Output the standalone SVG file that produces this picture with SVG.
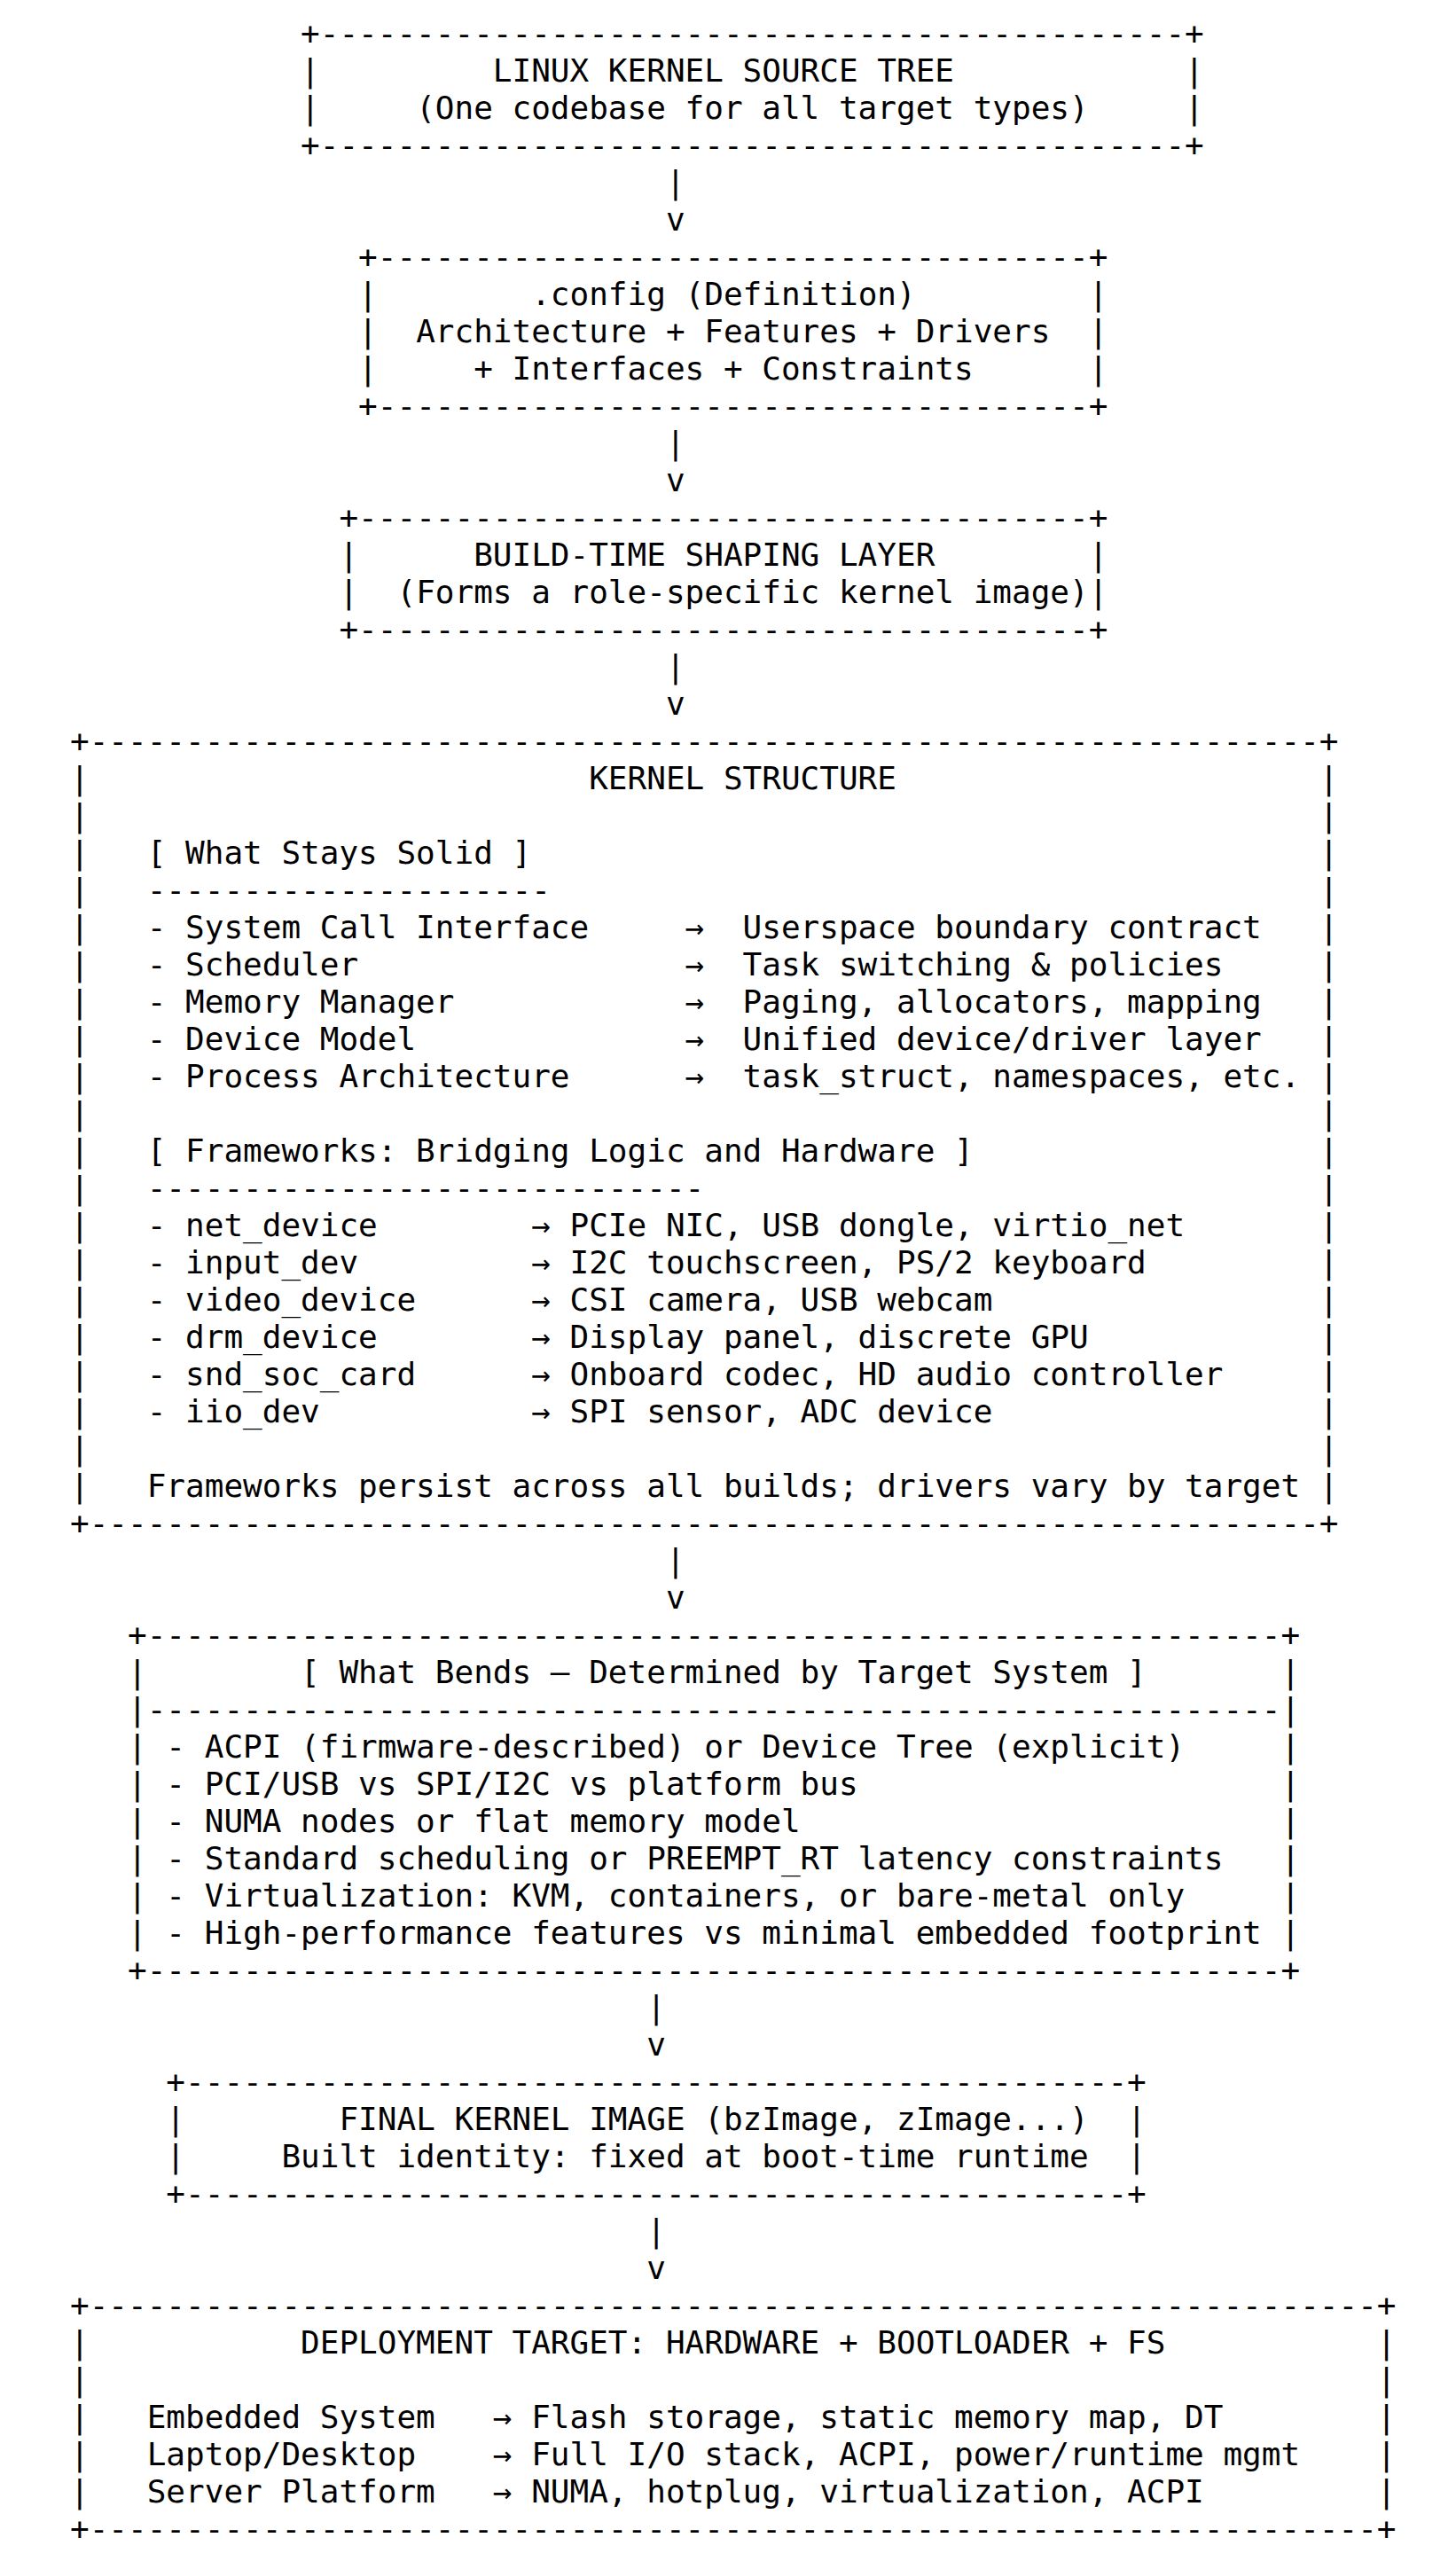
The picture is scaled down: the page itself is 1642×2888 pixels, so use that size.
<svg xmlns="http://www.w3.org/2000/svg" width="1642" height="2888" viewBox="0 0 1642 2888">
<style>
text { font-family: "DejaVu Sans Mono", monospace; font-size: 36px; fill: #000000; white-space: pre; }
</style>
<rect x="0" y="0" width="1642" height="2888" fill="#ffffff"/>
<g id="source-tree">
<text x="339.09" y="50">+---------------------------------------------+</text>
<text y="92"><tspan x="339.09">|</tspan><tspan x="555.83">LINUX KERNEL SOURCE TREE</tspan><tspan x="1336.09">|</tspan></text>
<text y="134"><tspan x="339.09">|</tspan><tspan x="469.13">(One codebase for all target types)</tspan><tspan x="1336.09">|</tspan></text>
<text x="339.09" y="176">+---------------------------------------------+</text>
</g>
<g id="config">
<text x="404.11" y="302">+-------------------------------------+</text>
<text y="344"><tspan x="404.11">|</tspan><tspan x="599.18">.config (Definition)</tspan><tspan x="1227.72">|</tspan></text>
<text y="386"><tspan x="404.11">|</tspan><tspan x="469.13">Architecture + Features + Drivers</tspan><tspan x="1227.72">|</tspan></text>
<text y="428"><tspan x="404.11">|</tspan><tspan x="534.15">+ Interfaces + Constraints</tspan><tspan x="1227.72">|</tspan></text>
<text x="404.11" y="470">+-------------------------------------+</text>
</g>
<g id="build-time-layer">
<text x="382.44" y="596">+--------------------------------------+</text>
<text y="638"><tspan x="382.44">|</tspan><tspan x="534.15">BUILD-TIME SHAPING LAYER</tspan><tspan x="1227.72">|</tspan></text>
<text y="680"><tspan x="382.44">|</tspan><tspan x="447.46">(Forms a role-specific kernel image)</tspan><tspan x="1227.72">|</tspan></text>
<text x="382.44" y="722">+--------------------------------------+</text>
</g>
<g id="kernel-structure">
<text x="79" y="848">+----------------------------------------------------------------+</text>
<text y="890"><tspan x="79">|</tspan><tspan x="664.20">KERNEL STRUCTURE</tspan><tspan x="1487.81">|</tspan></text>
<text y="932"><tspan x="79">|</tspan><tspan x="1487.81">|</tspan></text>
<text y="974"><tspan x="79">|</tspan><tspan x="165.70">[ What Stays Solid ]</tspan><tspan x="1487.81">|</tspan></text>
<text y="1016"><tspan x="79">|</tspan><tspan x="165.70">---------------------</tspan><tspan x="1487.81">|</tspan></text>
<text y="1058"><tspan x="79">|</tspan><tspan x="165.70">- System Call Interface</tspan><tspan x="772.57">→</tspan><tspan x="837.59">Userspace boundary contract</tspan><tspan x="1487.81">|</tspan></text>
<text y="1100"><tspan x="79">|</tspan><tspan x="165.70">- Scheduler</tspan><tspan x="772.57">→</tspan><tspan x="837.59">Task switching &amp; policies</tspan><tspan x="1487.81">|</tspan></text>
<text y="1142"><tspan x="79">|</tspan><tspan x="165.70">- Memory Manager</tspan><tspan x="772.57">→</tspan><tspan x="837.59">Paging, allocators, mapping</tspan><tspan x="1487.81">|</tspan></text>
<text y="1184"><tspan x="79">|</tspan><tspan x="165.70">- Device Model</tspan><tspan x="772.57">→</tspan><tspan x="837.59">Unified device/driver layer</tspan><tspan x="1487.81">|</tspan></text>
<text y="1226"><tspan x="79">|</tspan><tspan x="165.70">- Process Architecture</tspan><tspan x="772.57">→</tspan><tspan x="837.59">task_struct, namespaces, etc.</tspan><tspan x="1487.81">|</tspan></text>
<text y="1268"><tspan x="79">|</tspan><tspan x="1487.81">|</tspan></text>
<text y="1310"><tspan x="79">|</tspan><tspan x="165.70">[ Frameworks: Bridging Logic and Hardware ]</tspan><tspan x="1487.81">|</tspan></text>
<text y="1352"><tspan x="79">|</tspan><tspan x="165.70">-----------------------------</tspan><tspan x="1487.81">|</tspan></text>
<text y="1394"><tspan x="79">|</tspan><tspan x="165.70">- net_device</tspan><tspan x="599.18">→</tspan><tspan x="642.52">PCIe NIC, USB dongle, virtio_net</tspan><tspan x="1487.81">|</tspan></text>
<text y="1436"><tspan x="79">|</tspan><tspan x="165.70">- input_dev</tspan><tspan x="599.18">→</tspan><tspan x="642.52">I2C touchscreen, PS/2 keyboard</tspan><tspan x="1487.81">|</tspan></text>
<text y="1478"><tspan x="79">|</tspan><tspan x="165.70">- video_device</tspan><tspan x="599.18">→</tspan><tspan x="642.52">CSI camera, USB webcam</tspan><tspan x="1487.81">|</tspan></text>
<text y="1520"><tspan x="79">|</tspan><tspan x="165.70">- drm_device</tspan><tspan x="599.18">→</tspan><tspan x="642.52">Display panel, discrete GPU</tspan><tspan x="1487.81">|</tspan></text>
<text y="1562"><tspan x="79">|</tspan><tspan x="165.70">- snd_soc_card</tspan><tspan x="599.18">→</tspan><tspan x="642.52">Onboard codec, HD audio controller</tspan><tspan x="1487.81">|</tspan></text>
<text y="1604"><tspan x="79">|</tspan><tspan x="165.70">- iio_dev</tspan><tspan x="599.18">→</tspan><tspan x="642.52">SPI sensor, ADC device</tspan><tspan x="1487.81">|</tspan></text>
<text y="1646"><tspan x="79">|</tspan><tspan x="1487.81">|</tspan></text>
<text y="1688"><tspan x="79">|</tspan><tspan x="165.70">Frameworks persist across all builds; drivers vary by target</tspan><tspan x="1487.81">|</tspan></text>
<text x="79" y="1730">+----------------------------------------------------------------+</text>
</g>
<g id="what-bends">
<text x="144.02" y="1856">+-----------------------------------------------------------+</text>
<text y="1898"><tspan x="144.02">|</tspan><tspan x="339.09">[ What Bends — Determined by Target System ]</tspan><tspan x="1444.46">|</tspan></text>
<text x="144.02" y="1940">|-----------------------------------------------------------|</text>
<text y="1982"><tspan x="144.02">|</tspan><tspan x="187.37">- ACPI (firmware-described) or Device Tree (explicit)</tspan><tspan x="1444.46">|</tspan></text>
<text y="2024"><tspan x="144.02">|</tspan><tspan x="187.37">- PCI/USB vs SPI/I2C vs platform bus</tspan><tspan x="1444.46">|</tspan></text>
<text y="2066"><tspan x="144.02">|</tspan><tspan x="187.37">- NUMA nodes or flat memory model</tspan><tspan x="1444.46">|</tspan></text>
<text y="2108"><tspan x="144.02">|</tspan><tspan x="187.37">- Standard scheduling or PREEMPT_RT latency constraints</tspan><tspan x="1444.46">|</tspan></text>
<text y="2150"><tspan x="144.02">|</tspan><tspan x="187.37">- Virtualization: KVM, containers, or bare-metal only</tspan><tspan x="1444.46">|</tspan></text>
<text y="2192"><tspan x="144.02">|</tspan><tspan x="187.37">- High-performance features vs minimal embedded footprint</tspan><tspan x="1444.46">|</tspan></text>
<text x="144.02" y="2234">+-----------------------------------------------------------+</text>
</g>
<g id="final-image">
<text x="187.37" y="2360">+-------------------------------------------------+</text>
<text y="2402"><tspan x="187.37">|</tspan><tspan x="382.44">FINAL KERNEL IMAGE (bzImage, zImage...)</tspan><tspan x="1271.07">|</tspan></text>
<text y="2444"><tspan x="187.37">|</tspan><tspan x="317.41">Built identity: fixed at boot-time runtime</tspan><tspan x="1271.07">|</tspan></text>
<text x="187.37" y="2486">+-------------------------------------------------+</text>
</g>
<g id="deployment-target">
<text x="79" y="2612">+-------------------------------------------------------------------+</text>
<text y="2654"><tspan x="79">|</tspan><tspan x="339.09">DEPLOYMENT TARGET: HARDWARE + BOOTLOADER + FS</tspan><tspan x="1552.83">|</tspan></text>
<text y="2696"><tspan x="79">|</tspan><tspan x="1552.83">|</tspan></text>
<text y="2738"><tspan x="79">|</tspan><tspan x="165.70">Embedded System</tspan><tspan x="555.83">→</tspan><tspan x="599.18">Flash storage, static memory map, DT</tspan><tspan x="1552.83">|</tspan></text>
<text y="2780"><tspan x="79">|</tspan><tspan x="165.70">Laptop/Desktop</tspan><tspan x="555.83">→</tspan><tspan x="599.18">Full I/O stack, ACPI, power/runtime mgmt</tspan><tspan x="1552.83">|</tspan></text>
<text y="2822"><tspan x="79">|</tspan><tspan x="165.70">Server Platform</tspan><tspan x="555.83">→</tspan><tspan x="599.18">NUMA, hotplug, virtualization, ACPI</tspan><tspan x="1552.83">|</tspan></text>
<text x="79" y="2864">+-------------------------------------------------------------------+</text>
</g>
<g id="connectors">
<text x="750.89" y="218">|</text>
<text x="750.89" y="260">v</text>
<text x="750.89" y="512">|</text>
<text x="750.89" y="554">v</text>
<text x="750.89" y="764">|</text>
<text x="750.89" y="806">v</text>
<text x="750.89" y="1772">|</text>
<text x="750.89" y="1814">v</text>
<text x="729.22" y="2276">|</text>
<text x="729.22" y="2318">v</text>
<text x="729.22" y="2528">|</text>
<text x="729.22" y="2570">v</text>
</g>
</svg>
